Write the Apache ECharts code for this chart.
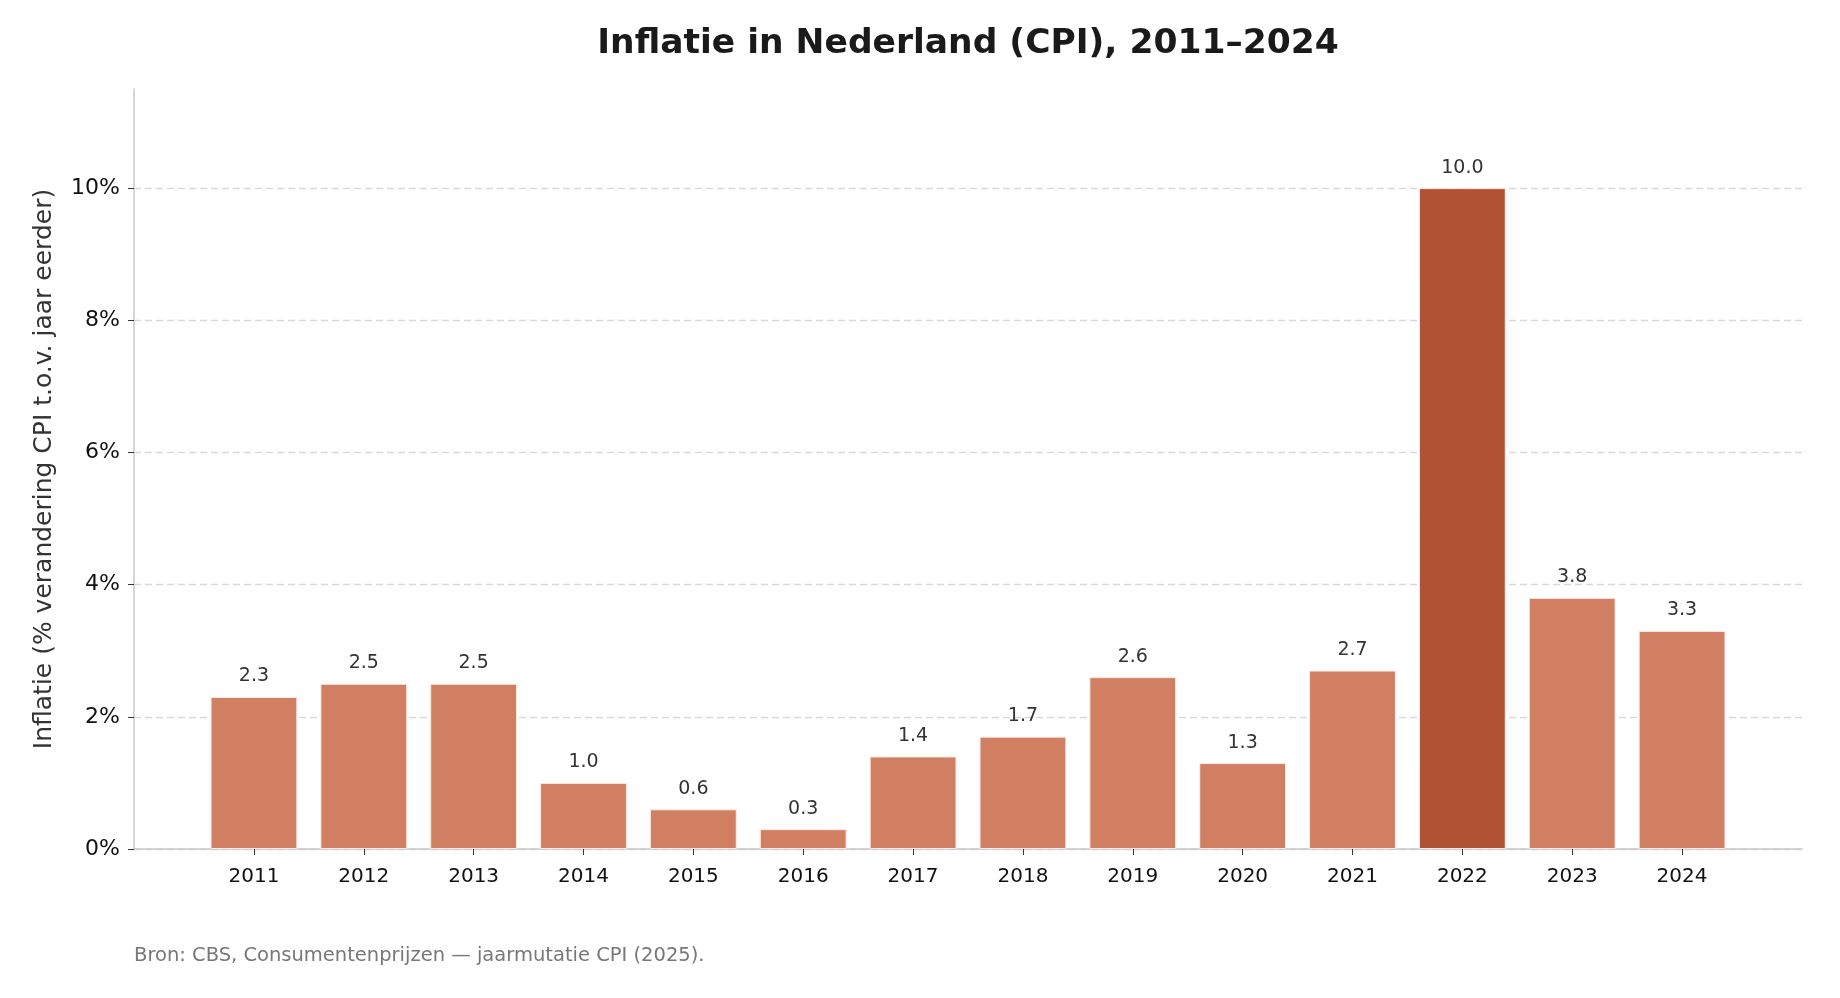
<!DOCTYPE html>
<html>
<head>
<meta charset="utf-8">
<title>Inflatie in Nederland (CPI), 2011–2024</title>
<script src="https://cdn.jsdelivr.net/npm/echarts@6/dist/echarts.min.js"></script>
<style>
  html, body { margin: 0; padding: 0; background: #fff; }
  #chart { width: 1840px; height: 998px; }
</style>
</head>
<body>
<div id="chart"></div>
<script>
// data
const years = ['2011', '2012', '2013', '2014', '2015', '2016', '2017', '2018', '2019', '2020', '2021', '2022', '2023', '2024']
const inflation = [2.3, 2.5, 2.5, 1.0, 0.6, 0.3, 1.4, 1.7, 2.6, 1.3, 2.7, 10.0, 3.8, 3.3]
const highlightYear = '2022'
const yTicks = [0, 2, 4, 6, 8, 10]

const font = 'DejaVu Sans, sans-serif'
const baseColor = '#D17F63'
const peakColor = '#B05233'
const yMax = 11.5

const chart = echarts.init(document.getElementById('chart'))

chart.setOption({
  animation: false,
  textStyle: { fontFamily: font },
  title: {
    text: 'Inflatie in Nederland (CPI), 2011–2024',
    left: 963,
    top: 22,
    textAlign: 'center',
    textStyle: { fontFamily: font, fontSize: 34.5, fontWeight: 'bold', color: '#1a1a1a' }
  },
  graphic: [{
    type: 'text',
    left: 134,
    top: 946,
    style: {
      text: 'Bron: CBS, Consumentenprijzen — jaarmutatie CPI (2025).',
      fontFamily: font,
      fontSize: 19.5,
      fill: '#777'
    }
  }],
  grid: [
    // frame: full width axes, ticks, gridlines
    { left: 134, right: 38, top: 89, bottom: 149 },
    // bars: inset like matplotlib x margins
    { left: 199, right: 103, top: 89, bottom: 149 }
  ],
  xAxis: [
    {
      gridIndex: 0,
      type: 'value',
      min: 0,
      max: 1,
      axisLine: { show: true, onZero: false, lineStyle: { color: '#c8c8c8', width: 1.5 } },
      axisTick: { show: false },
      axisLabel: { show: false },
      splitLine: { show: false }
    },
    {
      gridIndex: 1,
      type: 'category',
      data: years,
      axisLine: { show: false },
      axisTick: { show: true, alignWithLabel: true, length: 6, lineStyle: { color: '#333' } },
      axisLabel: { fontFamily: font, fontSize: 20, color: '#111', margin: 18 }
    }
  ],
  yAxis: [
    {
      gridIndex: 0,
      type: 'value',
      min: 0,
      max: yMax,
      interval: 2,
      name: 'Inflatie (% verandering CPI t.o.v. jaar eerder)',
      nameLocation: 'middle',
      nameGap: 77,
      nameTextStyle: { fontFamily: font, fontSize: 25, color: '#333' },
      axisLine: { show: true, lineStyle: { color: '#c8c8c8', width: 1.5 } },
      axisTick: { show: true, length: 6, lineStyle: { color: '#333' } },
      axisLabel: {
        fontFamily: font,
        fontSize: 22,
        color: '#111',
        margin: 14,
        showMaxLabel: false,
        formatter: v => yTicks.includes(v) ? v + '%' : ''
      },
      splitLine: { show: true, showMaxLine: false, lineStyle: { color: '#d9d9d9', type: [7, 4], width: 1.3 } }
    },
    {
      gridIndex: 1,
      type: 'value',
      min: 0,
      max: yMax,
      show: false
    }
  ],
  series: [{
    type: 'bar',
    xAxisIndex: 1,
    yAxisIndex: 1,
    barWidth: '79%',
    data: inflation.map((v, i) => ({
      value: v,
      itemStyle: { color: years[i] === highlightYear ? peakColor : baseColor }
    })),
    itemStyle: { borderColor: '#fbe9e3', borderWidth: 1 },
    label: {
      show: true,
      position: 'top',
      distance: 11,
      fontFamily: font,
      fontSize: 19,
      color: '#333',
      formatter: p => p.value.toFixed(1)
    }
  }]
})
</script>
</body>
</html>
